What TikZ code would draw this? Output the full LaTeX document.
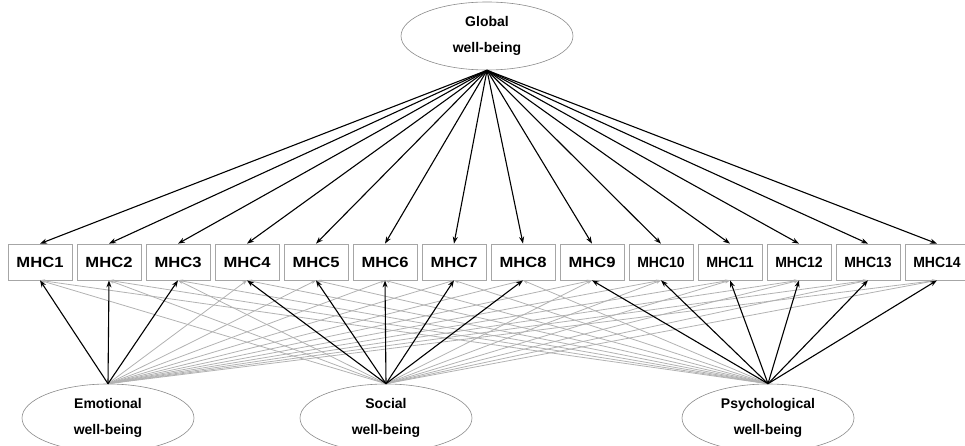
\documentclass[tikz,border=0pt]{standalone}
\usepackage{fontspec}
\setmainfont{Liberation Sans}
\usetikzlibrary{arrows.meta,shapes.geometric}
\begin{document}
\begin{tikzpicture}[x=1pt,y=-1pt,
  item/.style={draw=black!35, fill=white, minimum width=64pt, minimum height=36pt, inner sep=0pt, line width=0.7pt},
  factor/.style={ellipse, draw=black!45, fill=white, line width=0.6pt, minimum width=172pt, minimum height=68pt, inner sep=0pt, align=center, font=\fontsize{14}{26}\selectfont\bfseries},
  blk/.style={draw=black, line width=1.1pt, -{Stealth[length=7pt,width=5pt]}},
  gry/.style={draw=black!30, line width=0.8pt, -{Stealth[length=5pt,width=3.5pt]}}
]
\useasboundingbox (0,0) rectangle (965,446);
% latent factors
\node[factor] (glob) at (487,36) {Global\\well-being};
\node[factor] (emo) at (108,418) {Emotional\\well-being};
\node[factor] (soc) at (386,418) {Social\\well-being};
\node[factor] (psy) at (768,418) {Psychological\\well-being};
% items
\foreach \i in {1,...,9} {
  \node[item] (m\i) at ({40+69*(\i-1)},262) {\resizebox{47pt}{10.3pt}{\bfseries MHC\i}};
}
\foreach \i in {10,...,14} {
  \node[item] (m\i) at ({40+69*(\i-1)},262) {\resizebox{47.5pt}{10.3pt}{\bfseries MHC\i}};
}
% grey cross lines
\foreach \i in {4,...,14} \draw[gry] (emo.north) -- (m\i.south);
\foreach \i in {1,2,3,9,10,11,12,13,14} \draw[gry] (soc.north) -- (m\i.south);
\foreach \i in {1,...,8} \draw[gry] (psy.north) -- (m\i.south);
% black loadings
\foreach \i in {1,...,14} \draw[blk] (glob.south) -- (m\i.north);
\foreach \i in {1,2,3} \draw[blk] (emo.north) -- (m\i.south);
\foreach \i in {4,...,8} \draw[blk] (soc.north) -- (m\i.south);
\foreach \i in {9,...,14} \draw[blk] (psy.north) -- (m\i.south);
\end{tikzpicture}
\end{document}
